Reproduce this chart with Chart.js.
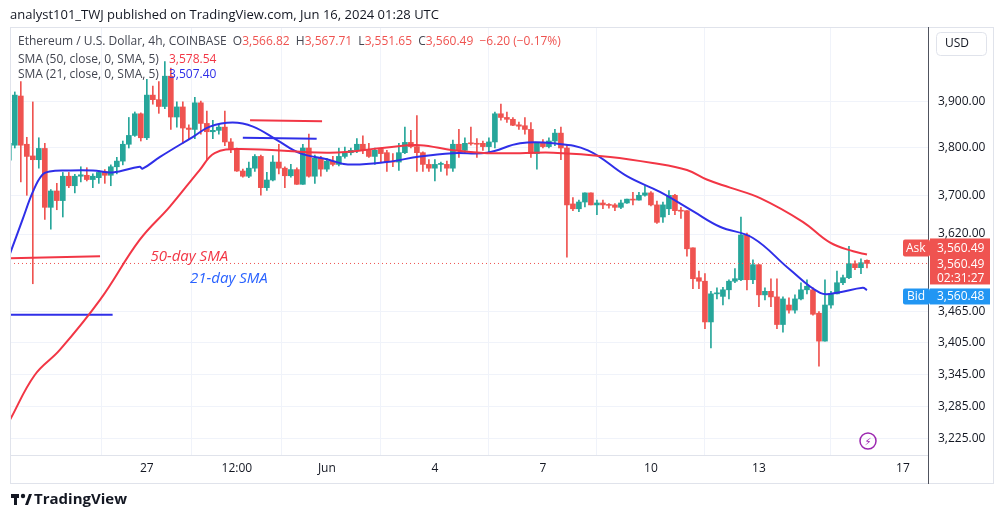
<!DOCTYPE html>
<html>
<head>
<meta charset="utf-8">
<script src="https://cdn.jsdelivr.net/npm/chart.js@4.4.1/dist/chart.umd.min.js"></script>
<style>
  html, body { margin: 0; padding: 0; background: #fff; overflow: hidden; }
  #wrap { width: 1003px; height: 518px; position: relative; }
</style>
</head>
<body>
<div id="wrap"><canvas id="ethChart" width="1003" height="518"></canvas></div>
<script>
// 4h candles, index 0 = May 27 00:00
const firstIndex = -23;
const opens = [3774,3806,3913,3808,3783,3775,3799,3675,3709,3689,3740,3720,3740,3742,3733,3737,3750,3742,3760,3772,
  3808,3827,3874,3822,3915,3905,3890,3957,3867,3889,3843,3840,3898,3853,3835,3838,3845,3813,3799,3751,
  3740,3757,3782,3716,3732,3770,3757,3741,3754,3723,3800,3740,3778,3755,3772,3765,3782,3790,3795,3808,
  3795,3782,3797,3790,3772,3770,3790,3812,3803,3790,3765,3757,3765,3765,3757,3808,3795,3810,3809,3810,
  3803,3813,3874,3866,3862,3850,3848,3840,3788,3810,3803,3815,3832,3800,3682,3672,3686,3705,3680,3684,
  3680,3680,3675,3684,3692,3690,3700,3705,3680,3655,3672,3700,3668,3668,3592,3532,3525,3445,3500,3495,
  3508,3525,3528,3618,3528,3558,3498,3505,3494,3440,3478,3468,3490,3508,3508,3462,3408,3478,3500,3522,
  3532,3560,3552,3566.82];
const highs = [3815,3922,3945,3823,3900,3822,3810,3712,3725,3748,3748,3744,3760,3758,3745,3752,3754,3764,3780,3815,
  3866,3878,3876,3950,3935,3945,3990,3975,3900,3900,3850,3910,3902,3880,3860,3850,3880,3820,3800,3755,
  3770,3786,3785,3748,3784,3808,3760,3765,3758,3808,3830,3785,3782,3778,3782,3800,3802,3800,3820,3826,
  3810,3800,3800,3795,3788,3810,3845,3838,3870,3792,3775,3775,3770,3772,3817,3840,3822,3845,3820,3815,
  3822,3878,3895,3878,3866,3856,3866,3855,3812,3818,3822,3840,3845,3808,3695,3690,3705,3705,3690,3690,
  3683,3683,3690,3692,3706,3706,3720,3708,3688,3686,3710,3702,3675,3668,3592,3545,3540,3505,3512,3513,
  3528,3550,3655,3622,3568,3558,3512,3530,3530,3494,3492,3498,3522,3528,3512,3465,3528,3505,3545,3537,
  3595,3566,3570,3567.71];
const lows = [3765,3800,3728,3700,3520,3757,3650,3630,3670,3655,3716,3705,3728,3730,3716,3725,3725,3720,3745,3764,
  3800,3825,3815,3818,3895,3875,3885,3840,3845,3810,3820,3820,3830,3774,3820,3830,3805,3790,3750,3738,
  3737,3750,3700,3710,3730,3745,3716,3738,3723,3723,3738,3725,3740,3750,3762,3762,3778,3785,3790,3788,
  3780,3765,3770,3750,3760,3752,3788,3800,3750,3750,3750,3730,3750,3742,3750,3780,3790,3806,3780,3795,
  3788,3800,3860,3855,3848,3840,3830,3780,3755,3800,3800,3805,3775,3573,3668,3666,3676,3680,3660,3672,
  3673,3668,3672,3683,3680,3690,3698,3678,3642,3644,3660,3660,3652,3575,3510,3510,3432,3395,3490,3478,
  3490,3522,3526,3508,3520,3475,3488,3475,3432,3425,3462,3462,3488,3500,3458,3360,3408,3472,3500,3518,
  3530,3548,3540,3551.65];
const closes = [3810,3915,3806,3782,3775,3799,3675,3709,3689,3740,3720,3740,3743,3733,3740,3748,3742,3760,3772,3808,
  3827,3874,3822,3915,3905,3890,3957,3867,3889,3843,3840,3898,3853,3835,3838,3845,3813,3799,3751,3740,
  3757,3782,3716,3732,3770,3757,3741,3754,3723,3800,3740,3778,3755,3772,3765,3782,3790,3795,3808,3795,
  3782,3795,3788,3770,3770,3790,3812,3803,3790,3765,3757,3765,3766,3757,3808,3795,3810,3809,3808,3803,
  3813,3874,3866,3862,3849,3847,3840,3788,3810,3803,3815,3832,3800,3680,3672,3686,3705,3680,3684,3680,
  3679,3675,3684,3692,3690,3700,3705,3680,3644,3680,3700,3668,3667,3590,3530,3525,3445,3500,3502,3508,
  3525,3530,3618,3528,3558,3498,3505,3494,3440,3490,3468,3490,3508,3515,3460,3408,3478,3500,3522,3532,
  3560,3552,3562,3560.49];

// moving averages
const sma50X = [-22.8,-18.7,-14.5,-7.8,-1.2,3.8,8.8,11.3,15.5,30.5,40,45.5,51,56.7,62.2,67.7,77.2,84.3,90,93.3,97.2,102.2,109.3,113.8,117.7,120];
const sma50Y = [3260,3343,3391,3488,3608,3676,3753,3789,3798,3790,3801,3806,3795,3789,3789,3790,3781,3768,3753,3733,3716,3694,3645,3603,3585,3578.54];
const sma21X = [-22.8,-20.7,-19,-17.5,-16.2,-13.3,-9,-5.7,-1.2,-0.7,2.2,7.7,10.5,14.3,17.7,21.7,25.5,30,33.5,40,45.5,51,56.7,62.2,67.7,73.5,80,85.5,91,95.5,101,107,112.2,115,119.3,120];
const sma21Y = [3580,3650,3707,3742,3750,3752,3752,3748,3760,3756,3781,3824,3846,3855,3846,3817,3789,3776,3765,3770,3782,3789,3790,3810,3810,3795,3740,3707,3667,3635,3612,3550,3502,3502,3512,3507.40];

const yTicks = [3225,3285,3345,3405,3465,3620,3700,3800,3900];
const xTickPos = [0,15,30,48,66,84,102,126];
const xTickText = ['27','12:00','Jun','4','7','10','13','17'];

const lastPrice = 3560.49;
const bidPrice = 3560.48;

const UP = '#26a69a', DOWN = '#ef5350';

const bodies = [], wicks = [], candleColors = [];
for (let k = 0; k < closes.length; k++) {
  const i = firstIndex + k;
  bodies.push({ x: i, y: [opens[k], closes[k]] });
  wicks.push({ x: i, y: [lows[k], highs[k]] });
  candleColors.push(closes[k] >= opens[k] ? UP : DOWN);
}
const pts = (xs, ys) => xs.map((x, j) => ({ x: x, y: ys[j] }));

const fmt = v => v.toLocaleString('en-US', { minimumFractionDigits: 2, maximumFractionDigits: 2 });

const overlay = {
  id: 'overlay',
  afterDraw(chart) {
    const { ctx, chartArea: a, scales } = chart;
    const y = scales.y, x = scales.x;
    ctx.save();
    // frame
    ctx.strokeStyle = '#e0e3eb';
    ctx.lineWidth = 1;
    ctx.strokeRect(10.5, 27.5, 983, 456);
    ctx.strokeStyle = '#50535e';
    ctx.beginPath(); ctx.moveTo(a.right + 0.5, 27); ctx.lineTo(a.right + 0.5, 484); ctx.stroke();
    ctx.strokeStyle = '#e0e3eb';
    ctx.beginPath(); ctx.moveTo(10, a.bottom + 0.5); ctx.lineTo(a.right, a.bottom + 0.5); ctx.stroke();

    // header / footer
    ctx.fillStyle = '#131722';
    ctx.font = '13px "Open Sans", sans-serif';
    ctx.textBaseline = 'middle';
    ctx.fillText('analyst101_TWJ published on TradingView.com, Jun 16, 2024 01:28 UTC', 10, 15);
    ctx.font = 'bold 15px "Open Sans", sans-serif';
    ctx.fillText('TradingView', 34, 500);
    ctx.fillStyle = '#131722';
    ctx.fillRect(11, 494, 8, 4); ctx.fillRect(14, 494, 3, 11);
    ctx.beginPath(); ctx.arc(23, 496, 2.2, 0, Math.PI * 2); ctx.fill();
    ctx.beginPath(); ctx.moveTo(25, 505); ctx.lineTo(29, 494); ctx.lineTo(32, 494); ctx.lineTo(28, 505); ctx.fill();

    // legend
    ctx.font = '12px "Open Sans", sans-serif';
    let lx = 18;
    const seg = (t, c) => { ctx.fillStyle = c; ctx.fillText(t, lx, 42); lx += ctx.measureText(t).width; };
    seg('Ethereum / U.S. Dollar, 4h, COINBASE  ', '#434651');
    seg('O', '#434651'); seg('3,566.82  ', DOWN);
    seg('H', '#434651'); seg('3,567.71  ', DOWN);
    seg('L', '#434651'); seg('3,551.65  ', DOWN);
    seg('C', '#434651'); seg('3,560.49  −6.20 (−0.17%)', DOWN);
    ctx.fillStyle = '#434651';
    ctx.fillText('SMA (50, close, 0, SMA, 5)', 18, 60);
    ctx.fillText('SMA (21, close, 0, SMA, 5)', 18, 75);
    ctx.fillStyle = '#f23645'; ctx.fillText('3,578.54', 169, 60);
    ctx.fillStyle = '#2f2fe8'; ctx.fillText('3,507.40', 169, 75);

    // annotation labels
    ctx.font = 'italic 15px "Open Sans", sans-serif';
    ctx.fillStyle = '#f23645';
    ctx.fillText('50-day SMA', x.getPixelForValue(0.6), y.getPixelForValue(3575));
    ctx.fillStyle = '#2962ff';
    ctx.fillText('21-day SMA', x.getPixelForValue(7.2), y.getPixelForValue(3530));

    // USD button
    ctx.strokeStyle = '#e0e3eb';
    ctx.beginPath(); ctx.roundRect(936.5, 32.5, 50, 23, 4); ctx.stroke();
    ctx.fillStyle = '#131722'; ctx.font = '12px "Open Sans", sans-serif';
    ctx.fillText('USD', 945, 44);

    // price tags
    const py = y.getPixelForValue(lastPrice);
    ctx.fillStyle = DOWN;
    ctx.beginPath(); ctx.roundRect(903, py - 24, 27, 17, 2); ctx.fill();
    ctx.fillRect(930, py - 25, 60, 46);
    ctx.fillStyle = '#fff';
    ctx.fillText('Ask', 906, py - 15);
    ctx.fillText(fmt(lastPrice), 937, py - 15);
    ctx.fillText(fmt(lastPrice), 937, py + 1);
    ctx.fillText('02:31:27', 937, py + 15);
    const by = y.getPixelForValue(bidPrice) + 33;
    ctx.fillStyle = '#2196f3';
    ctx.beginPath(); ctx.roundRect(903, by - 8, 27, 16, 2); ctx.fill();
    ctx.fillRect(930, by - 8, 60, 16);
    ctx.fillStyle = '#fff';
    ctx.fillText('Bid', 907, by);
    ctx.fillText(fmt(bidPrice), 937, by);

    // lightning icon
    ctx.strokeStyle = '#9c27b0'; ctx.lineWidth = 1.5;
    ctx.beginPath(); ctx.arc(868, 441, 8, 0, Math.PI * 2); ctx.stroke();
    ctx.fillStyle = '#9c27b0'; ctx.font = '10px "DejaVu Sans", sans-serif';
    ctx.textAlign = 'center'; ctx.fillText('⚡', 868, 442);
    ctx.restore();
  }
};

new Chart(document.getElementById('ethChart'), {
  type: 'bar',
  data: {
    datasets: [
      { type: 'line', data: pts(sma50X, sma50Y), borderColor: '#f23645', borderWidth: 2, pointRadius: 0, tension: 0.4, order: 0 },
      { type: 'line', data: pts(sma21X, sma21Y), borderColor: '#2f2fe8', borderWidth: 2, pointRadius: 0, tension: 0.4, order: 0 },
      // drawings
      { type: 'line', data: pts([-22.8, -7.8], [3571, 3575]), borderColor: '#f23645', borderWidth: 2, pointRadius: 0, order: 0 },
      { type: 'line', data: pts([-22.8, -5.7], [3459, 3459]), borderColor: '#2f2fe8', borderWidth: 2, pointRadius: 0, order: 0 },
      { type: 'line', data: pts([17.2, 29.2], [3860, 3858]), borderColor: '#f23645', borderWidth: 2, pointRadius: 0, order: 0 },
      { type: 'line', data: pts([16, 28.3], [3822, 3820]), borderColor: '#2f2fe8', borderWidth: 2, pointRadius: 0, order: 0 },
      { type: 'line', data: pts([-22.8, 130.2], [lastPrice, lastPrice]), borderColor: DOWN, borderWidth: 1, borderDash: [1, 3], pointRadius: 0, order: 1 },
      { data: wicks, backgroundColor: candleColors, barThickness: 1, grouped: false, order: 6 },
      { data: bodies, backgroundColor: candleColors, barThickness: 5, minBarLength: 1, grouped: false, order: 5 }
    ]
  },
  options: {
    responsive: false,
    animation: false,
    devicePixelRatio: 1,
    layout: { padding: { left: 10, top: 28, right: 0, bottom: 35 } },
    plugins: { legend: { display: false }, tooltip: { enabled: false } },
    scales: {
      x: {
        type: 'linear', min: -22.8, max: 130.17, offset: false,
        afterBuildTicks: s => { s.ticks = xTickPos.map(v => ({ value: v })); },
        afterFit: s => { s.height = 28; },
        ticks: { callback: v => xTickText[xTickPos.indexOf(v)], color: '#131722', font: { size: 12, family: 'Open Sans' }, maxRotation: 0, autoSkip: false, padding: 6 },
        grid: { color: '#f0f3fa', drawTicks: false },
        border: { display: false }
      },
      y: {
        type: 'logarithmic', position: 'right', min: 3196, max: 4066,
        afterBuildTicks: s => { s.ticks = yTicks.map(v => ({ value: v })); },
        afterFit: s => { s.width = 75; },
        ticks: { callback: v => fmt(v), color: '#131722', font: { size: 12, family: 'Open Sans' }, autoSkip: false, padding: 10 },
        grid: { color: '#f0f3fa', drawTicks: false },
        border: { display: false }
      }
    }
  },
  plugins: [overlay]
});
</script>
</body>
</html>
